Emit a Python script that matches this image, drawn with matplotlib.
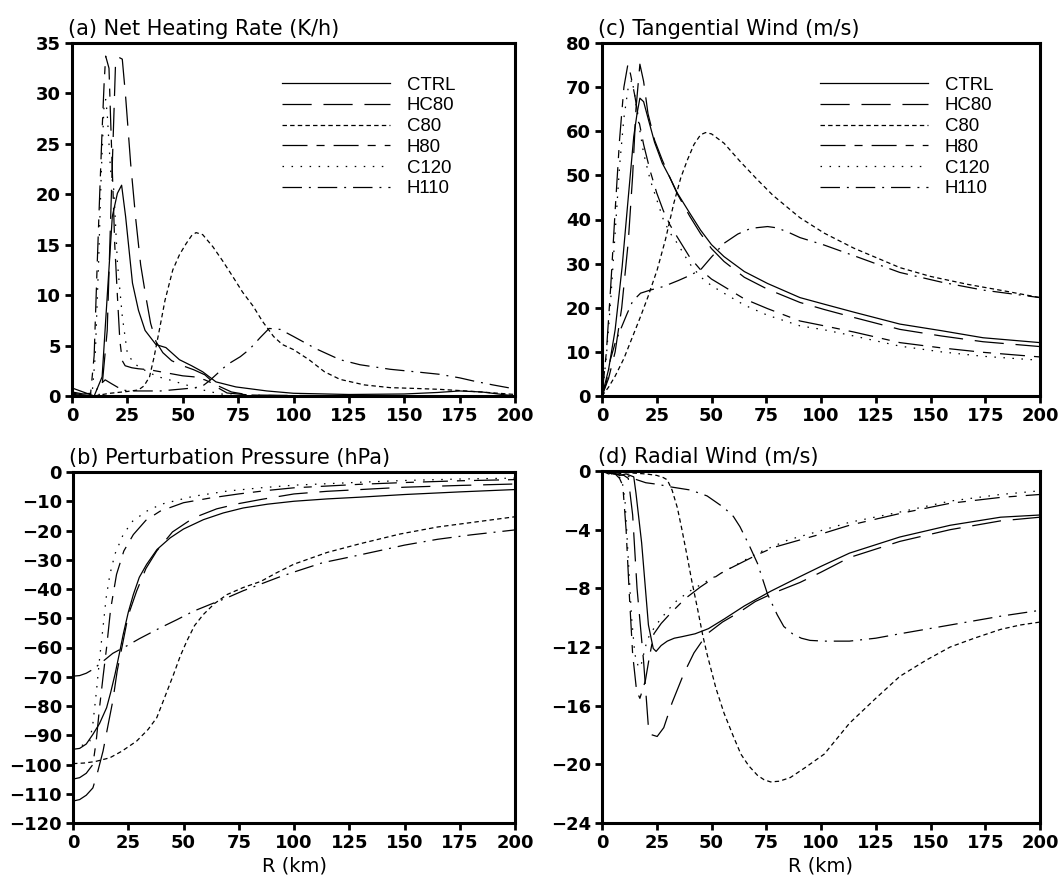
import matplotlib
matplotlib.use("Agg")
import matplotlib.pyplot as plt

plt.rcParams['font.family'] = ['DejaVu Sans']
plt.rcParams['lines.scale_dashes'] = False

# ---------------- data ----------------
labels = ["CTRL", "HC80", "C80", "H80", "C120", "H110"]
x_ticks = [0, 25, 50, 75, 100, 125, 150, 175, 200]

# (a) Net heating rate (K/h)
a_ctrl_x = [0, 5, 10, 13.6, 15.9, 18.2, 20.5, 22.4, 24.2, 27.3, 30, 33, 37.9, 42.4, 48.5, 54, 59, 65, 74, 88, 100, 125, 150, 165, 175, 185, 200]
a_ctrl_y = [0.8, 0.4, 0, 1.9, 9.9, 17.8, 20.1, 20.9, 17.8, 11.2, 8.5, 6.5, 5.1, 4.8, 3.6, 3.0, 2.4, 1.4, 0.9, 0.5, 0.27, 0.15, 0.2, 0.35, 0.5, 0.4, 0.0]
a_hc80_x = [0, 5, 12, 13.5, 15.9, 18.2, 19.7, 21, 22.7, 24.2, 26.5, 28.8, 31, 33.3, 35.5, 37.9, 41, 45, 50, 55, 60, 63, 66, 70, 80, 100, 150, 200]
a_hc80_y = [0.3, 0.1, 0, 0.8, 6.5, 23, 33.3, 33.6, 33.4, 29.7, 23, 17.5, 13, 9.9, 7.2, 5.4, 4.3, 3.5, 3.0, 2.6, 2.1, 1.5, 0.8, 0.3, 0.1, 0.05, 0, 0]
a_c80_x = [0, 10, 16.7, 25, 30, 32.5, 35, 37, 39.4, 42, 45.5, 48.5, 51.5, 54, 56, 59, 63.6, 68, 72.7, 77, 81.8, 86, 91, 95, 100, 107, 114, 121, 132, 143.6, 155, 166, 178, 189, 200]
a_c80_y = [0, 0, 0.26, 0.45, 0.6, 1.0, 1.9, 3.8, 6.5, 9.5, 12.5, 14.0, 15.1, 15.9, 16.2, 16.0, 14.8, 13.4, 11.8, 10.3, 8.9, 7.4, 5.9, 5.1, 4.6, 3.6, 2.4, 1.65, 1.1, 0.83, 0.75, 0.66, 0.5, 0.33, 0.15]
a_h80_x = [0, 5, 8.3, 10, 11.4, 12.5, 13.6, 14.5, 15.2, 16.7, 17.5, 18.2, 19.3, 20.5, 21.6, 22.7, 24, 27, 30, 35, 40, 45, 50, 55, 60, 64, 67, 72, 80, 100, 200]
a_h80_y = [0.2, 0, 0, 4, 13.2, 20, 26.4, 31, 33.7, 32.5, 27, 22.4, 15, 9.9, 5.5, 3.5, 3.0, 2.8, 2.7, 2.6, 2.4, 2.2, 2.0, 1.9, 1.6, 1.2, 0.9, 0.4, 0.1, 0, 0]
a_c120_x = [0, 5, 9, 10.5, 12, 13.2, 14.4, 15.2, 15.9, 17.4, 18.9, 20.5, 22.7, 25, 27.5, 30, 35, 39, 44, 50, 59, 65, 70, 80, 200]
a_c120_y = [0, 0, 0, 4, 13.2, 22, 28.5, 29.4, 28, 22.4, 20.4, 13.2, 7.9, 4.2, 3.4, 2.9, 2.3, 1.9, 1.6, 1.2, 0.6, 0.3, 0.1, 0, 0]
a_h110_x = [0, 5, 10, 13, 15, 18, 22.7, 26, 30, 35, 40, 45, 50, 55, 59, 62, 65, 70, 76, 80, 85, 89, 94, 100, 110, 121, 130, 143.6, 155, 166, 175, 181, 190, 200]
a_h110_y = [0.4, 0.2, 0.3, 1.2, 1.6, 1.2, 0.6, 0.5, 0.5, 0.5, 0.5, 0.6, 0.7, 0.8, 1.0, 1.5, 2.1, 3.1, 3.9, 4.6, 5.8, 6.7, 6.6, 5.9, 4.7, 3.6, 3.1, 2.65, 2.4, 2.15, 1.8, 1.5, 1.1, 0.7]

# (c) Tangential wind (m/s)
c_ctrl_x = [0, 3, 6, 9.2, 12, 14.5, 16, 17.3, 19, 21, 24, 27.5, 31, 34.4, 40, 45, 50, 55.7, 65, 75.6, 90.4, 101.5, 115, 136, 155, 174, 200]
c_ctrl_y = [0, 6, 15, 29.3, 45, 58.8, 64, 67.5, 66.7, 63, 57.5, 52.8, 49.5, 46, 41.5, 37.6, 34.3, 31.6, 28.2, 25.5, 22.3, 20.8, 19, 16.3, 14.8, 13.2, 12.1]
c_hc80_x = [0, 3, 6, 9, 12, 14, 15.5, 17.3, 19, 21, 24, 27.5, 31, 34.4, 40, 45, 50, 55.7, 65, 75.6, 90.4, 101.5, 115, 136, 155, 174, 200]
c_hc80_y = [0, 4, 10, 20, 35, 50, 65, 75.2, 71.3, 64, 58, 53.5, 49.5, 45.8, 40.8, 36.8, 33.4, 30.5, 26.9, 24.2, 21.2, 19.6, 17.8, 15.1, 13.6, 12.3, 11.2]
c_c80_x = [0, 3, 6, 10, 14, 17.6, 21, 25.2, 29, 32.8, 36, 39, 42, 45, 47.3, 50, 55.7, 63, 71, 78, 86, 90.4, 101.5, 115, 136, 150, 167, 185, 200]
c_c80_y = [0, 2, 4.5, 8.5, 13.5, 18, 22.5, 28.6, 35.5, 43.7, 49.5, 53.5, 57, 59.2, 59.7, 59.4, 57.3, 53.2, 49, 45.5, 42.2, 40.4, 36.9, 33.5, 29.1, 27.1, 25.3, 23.7, 22.3]
c_h80_x = [0, 2, 4, 6, 8, 10, 11.8, 13, 15, 17, 19, 22, 25, 28, 31, 34.4, 40, 45, 50, 55.7, 65, 75.6, 90.4, 101.5, 115, 136, 155, 174, 200]
c_h80_y = [0, 10, 25, 42, 58, 70, 75.1, 73, 68, 62, 57, 51, 46, 42, 38.8, 36, 31.5, 28.6, 26.5, 24.8, 22, 19.8, 17, 15.9, 14.5, 12.1, 10.9, 9.9, 8.85]
c_c120_x = [0, 2, 4, 6, 8, 10, 12, 13.7, 15, 17, 19, 22, 25, 28, 31, 34.4, 40, 45, 50, 55.7, 65, 75.6, 90.4, 101.5, 115, 136, 155, 174, 200]
c_c120_y = [0, 9, 22, 37, 52, 63, 70, 71.7, 68, 61, 55, 49, 44.5, 40, 37, 34.6, 30, 27, 25, 23.3, 20.6, 18.3, 15.9, 15, 13.6, 11.3, 10, 9, 8.1]
c_h110_x = [0, 2, 3.8, 6, 8, 11.5, 14, 17.6, 22, 28, 35, 40, 45, 50, 55.7, 62, 68, 75.6, 80, 86, 90.4, 101.5, 115, 136, 155, 174, 200]
c_h110_y = [0, 3, 8.2, 12, 14.5, 18.7, 21.5, 23.3, 24, 24.8, 26.2, 27.3, 28.6, 31.5, 34.6, 36.7, 38, 38.4, 38.1, 36.9, 35.9, 34.2, 31.8, 28, 25.8, 24, 22.3]

# (b) Perturbation pressure (hPa)
b_ctrl_x = [0, 3, 6, 9, 12, 15.2, 17, 19, 21, 22.7, 25, 27.3, 30, 33.3, 38, 44, 50, 59, 68, 77, 88, 100, 115, 130, 150, 175, 200]
b_ctrl_y = [-94.8, -94.5, -93, -89.7, -86, -80.6, -75.5, -69.2, -62, -55.6, -48, -41.9, -36, -31.6, -26.5, -22.5, -19.5, -16.3, -14, -12.3, -11, -10, -9.2, -8.6, -7.7, -6.8, -6]
b_hc80_x = [0, 3, 6, 9, 11, 13.6, 16, 18, 20, 22.7, 25, 28.8, 33, 37.9, 45, 54.5, 65, 75, 85, 100, 115, 130, 150, 175, 200]
b_hc80_y = [-112.5, -112, -110.5, -108, -103, -95.4, -86, -78.3, -68, -57.8, -49, -40.7, -33, -27, -20.5, -15.7, -12.6, -10.8, -9.4, -7.5, -6.6, -6, -5.2, -4.6, -4.1]
b_c80_x = [0, 5, 10, 16.7, 22, 28.8, 34, 37.9, 41, 45.5, 48.5, 51.5, 55, 59, 64, 69.7, 77, 85, 92, 100, 115, 130, 148, 165, 185, 200]
b_c80_y = [-99.7, -99.5, -99, -97.7, -95.5, -92, -88, -84, -78, -69.2, -63, -57.8, -52.5, -48.7, -45, -41.9, -39.5, -37.4, -34.5, -31.5, -27.5, -24.5, -21.2, -18.8, -16.8, -15.3]
b_h80_x = [0, 3, 6, 9, 10.5, 12, 13.6, 15.2, 17, 19.7, 23, 27.3, 33, 39.4, 50, 62, 75, 88, 100, 115, 130, 150, 175, 200]
b_h80_y = [-105, -104.5, -103, -100, -92, -80.6, -70, -60, -47, -35, -27, -21.4, -16.5, -13.4, -10.5, -8.9, -7.5, -6.3, -5.4, -4.8, -4.2, -3.6, -3, -2.6]
b_c120_x = [0, 3, 5, 7.6, 9, 10.6, 12, 13.6, 15, 16.7, 19, 22.7, 27, 33.3, 40, 54.5, 70, 85, 100, 115, 130, 150, 175, 200]
b_c120_y = [-94, -93.8, -93.2, -92, -86, -75, -64, -53, -43, -35, -28, -21.4, -16.8, -13.4, -11, -8.3, -6.5, -5.4, -4.5, -4, -3.5, -2.9, -2.4, -2.1]
b_h110_x = [0, 3, 6, 9, 13.6, 18, 24.2, 30, 39.4, 47, 54.5, 62, 69.7, 77, 85, 93, 100, 113, 127, 138, 150, 165, 180, 200]
b_h110_y = [-69.8, -69.6, -68.8, -67.5, -64.7, -62, -59.5, -57, -53.3, -50.5, -47.6, -45.3, -43, -40.6, -38.3, -36, -34.2, -31, -28.8, -27, -25, -23, -21.5, -19.8]

# (d) Radial wind (m/s)
d_ctrl_x = [0, 3, 5, 8, 11, 14.5, 15.5, 18.1, 21.2, 23.4, 24.7, 27, 29.8, 33, 36.4, 42.5, 48.6, 55.7, 65, 77, 90.4, 100, 113, 136, 159, 182, 200]
d_ctrl_y = [0, -0.2, -0.1, -0.3, -0.2, -0.4, -1.5, -4.9, -10.5, -12.1, -12.3, -11.9, -11.6, -11.4, -11.3, -11.1, -10.75, -10.1, -9.2, -8.2, -7.2, -6.5, -5.6, -4.5, -3.7, -3.15, -3.0]
d_hc80_x = [0, 5, 10, 12, 14, 16, 19, 21.4, 23, 25.2, 28.2, 32, 37.4, 42, 48, 55, 63, 70, 78.6, 90.4, 100, 113, 136, 159, 182, 200]
d_hc80_y = [0, -0.2, -0.3, -0.5, -3, -8, -13, -17.9, -18, -18.1, -17.5, -15.8, -13.8, -12.4, -11.1, -10.3, -9.6, -8.9, -8.3, -7.6, -6.9, -5.9, -4.8, -4.0, -3.4, -3.15]
d_c80_x = [0, 5, 10, 15, 20, 25, 28, 29.8, 32, 34.4, 36.5, 39, 41, 43.5, 46, 48, 52, 55.7, 60, 63.4, 67, 71, 74, 77, 81, 86, 93, 101.5, 113, 125, 136, 148, 159, 170, 182, 191, 200]
d_c80_y = [0, -0.05, -0.1, -0.15, -0.2, -0.3, -0.45, -0.6, -1.3, -2.5, -4, -5.9, -7.5, -9.3, -11.2, -12.5, -14.8, -16.5, -18.1, -19.3, -20.1, -20.75, -21.05, -21.2, -21.15, -20.9, -20.2, -19.3, -17.2, -15.5, -14.0, -12.9, -12.0, -11.4, -10.8, -10.5, -10.3]
d_h80_x = [0, 3, 6, 8, 9.5, 11, 12.5, 14, 15.8, 17.3, 19.8, 21.5, 23.7, 27, 31.3, 38, 45, 55, 63, 71, 78.6, 90.4, 100, 113, 136, 159, 182, 200]
d_h80_y = [0, -0.1, -0.2, -0.5, -1, -4, -8.5, -12.5, -15, -15.5, -14.3, -12.8, -11.1, -10.4, -9.7, -8.7, -7.9, -6.9, -6.3, -5.7, -5.2, -4.7, -4.3, -3.7, -2.9, -2.2, -1.8, -1.6]
d_c120_x = [0, 3, 6, 9, 10.5, 12, 13.5, 15, 16.5, 17.6, 19, 20.5, 22, 25.2, 30, 34.4, 41, 48, 60, 71, 85, 101.5, 113, 136, 159, 182, 200]
d_c120_y = [0, -0.1, -0.3, -0.5, -2, -6, -10, -12.5, -13.3, -13.4, -12.5, -11.6, -11.1, -10.4, -9.5, -8.8, -8.1, -7.5, -6.5, -5.6, -4.7, -4.0, -3.5, -2.8, -2.05, -1.6, -1.35]
d_h110_x = [0, 5, 10, 14, 20, 25, 32, 40.5, 48, 55.7, 60, 63, 67, 71, 75.6, 80, 83, 87, 91, 95, 101.5, 113, 125, 136, 159, 182, 200]
d_h110_y = [0, -0.1, -0.2, -0.5, -0.8, -0.9, -1.1, -1.3, -1.7, -2.5, -3.1, -3.8, -5, -6.3, -8.4, -9.8, -10.6, -11.1, -11.4, -11.55, -11.6, -11.6, -11.4, -11.1, -10.5, -9.9, -9.5]

# ---------------- styles ----------------
styles = {
    "CTRL": "-",
    "HC80": (0, (21, 8.5)),
    "C80": (0, (3.2, 2.3)),
    "H80": (0, (18, 6.5, 5.8, 6.5)),
    "C120": (0, (1.1, 5.4)),
    "H110": (0, (14, 5, 1.4, 5)),
}
LW = 0.9

W, H = 1060, 885
fig = plt.figure(figsize=(W / 100, H / 100), dpi=100)

def make_ax(l, r, t, b):
    return fig.add_axes([l / W, 1 - b / H, (r - l) / W, (b - t) / H])

ax_a = make_ax(72, 515, 43, 396)
ax_c = make_ax(602, 1040, 43, 396)
ax_b = make_ax(73, 515, 472, 823)
ax_d = make_ax(602, 1040, 471, 823)

panels = [
    (ax_a, "(a) Net Heating Rate (K/h)", (0, 35), list(range(0, 36, 5)),
     [(a_ctrl_x, a_ctrl_y), (a_hc80_x, a_hc80_y), (a_c80_x, a_c80_y),
      (a_h80_x, a_h80_y), (a_c120_x, a_c120_y), (a_h110_x, a_h110_y)], True, False),
    (ax_c, "(c) Tangential Wind (m/s)", (0, 80), list(range(0, 81, 10)),
     [(c_ctrl_x, c_ctrl_y), (c_hc80_x, c_hc80_y), (c_c80_x, c_c80_y),
      (c_h80_x, c_h80_y), (c_c120_x, c_c120_y), (c_h110_x, c_h110_y)], True, False),
    (ax_b, "(b) Perturbation Pressure (hPa)", (-120, 0), list(range(-120, 1, 10)),
     [(b_ctrl_x, b_ctrl_y), (b_hc80_x, b_hc80_y), (b_c80_x, b_c80_y),
      (b_h80_x, b_h80_y), (b_c120_x, b_c120_y), (b_h110_x, b_h110_y)], False, True),
    (ax_d, "(d) Radial Wind (m/s)", (-24, 0), list(range(-24, 1, 4)),
     [(d_ctrl_x, d_ctrl_y), (d_hc80_x, d_hc80_y), (d_c80_x, d_c80_y),
      (d_h80_x, d_h80_y), (d_c120_x, d_c120_y), (d_h110_x, d_h110_y)], False, True),
]

for ax, title, ylim, yticks, series, legend, xlabel in panels:
    for lab, (xs, ys) in zip(labels, series):
        ax.plot(xs, ys, color="black", lw=LW, linestyle=styles[lab], label=lab)
    ax.set_xlim(0, 200)
    ax.set_ylim(*ylim)
    ax.set_xticks(x_ticks)
    ax.set_yticks(yticks)
    ax.tick_params(direction="out", length=5, width=2, labelsize=13, pad=3,
                   top=False, right=False)
    for lbl in ax.get_xticklabels() + ax.get_yticklabels():
        lbl.set_fontweight("bold")
    for sp in ax.spines.values():
        sp.set_linewidth(2.2)
    ax.text(-0.009, 1.012, title, transform=ax.transAxes, ha="left", va="bottom",
            fontsize=15)
    if xlabel:
        ax.set_xlabel("R (km)", fontsize=14, labelpad=3)
    if legend:
        x0 = (282 - 72) / 443 if ax is ax_a else (820 - 602) / 438
        ax.legend(loc="upper left", bbox_to_anchor=(x0, 0.905), frameon=False,
                  prop={"family": "Liberation Sans", "size": 13.4},
                  handlelength=5.8, handletextpad=0.9, labelspacing=0.2,
                  borderpad=0, borderaxespad=0)

fig.savefig("out.png", dpi=100)
